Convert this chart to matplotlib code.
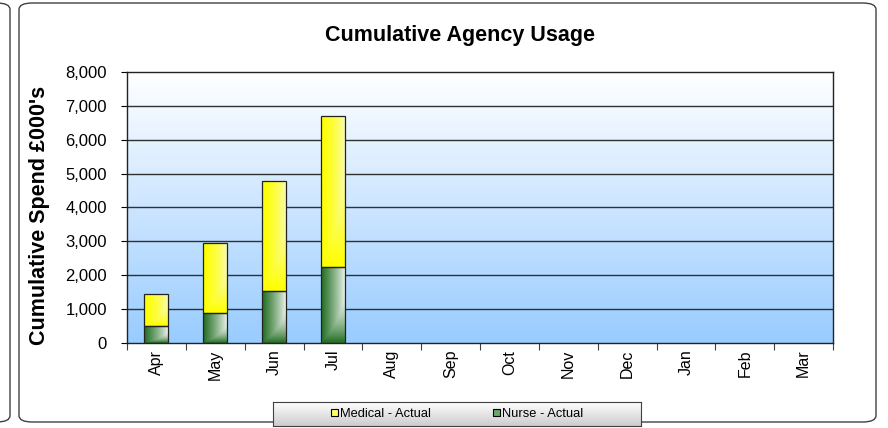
import numpy as np
import matplotlib
matplotlib.use('Agg')
import matplotlib.pyplot as plt
from matplotlib.patches import FancyBboxPatch, Patch
plt.rcParams.update({'font.family': 'Liberation Sans', 'font.size': 12})

# data (cumulative spend, £000's)
months = ['Apr', 'May', 'Jun', 'Jul', 'Aug', 'Sep', 'Oct', 'Nov', 'Dec', 'Jan', 'Feb', 'Mar']
nurse_actual = [500, 880, 1530, 2240]
medical_actual = [940, 2060, 3240, 4470]


"""
Fill a bar with a corner gradient: white at top-right, colour at left and bottom.
"""
def gradient_fill(ax, patch, rgb, gamma):
	x0, y0 = patch.get_x(), patch.get_y()
	w, h = patch.get_width(), patch.get_height()
	xs = np.linspace(0, 1, 40)
	ys = np.linspace(0, 1, 80)
	gx, gy = np.meshgrid(xs, ys)
	# image row 0 is the top, so gy is the distance down from the top
	t = np.maximum(1 - gx, gy ** 3)
	t = np.clip(t * 1.05, 0, 1) ** gamma
	white = np.array([0.97, 0.98, 0.97])
	col = np.array(rgb)
	img = white[None, None, :] * (1 - t[..., None]) + col[None, None, :] * t[..., None]
	im = ax.imshow(img, extent=[x0, x0 + w, y0, y0 + h], origin='upper',
				   aspect='auto', zorder=3, interpolation='bilinear')
	im.set_clip_path(patch)


fig = plt.figure(figsize=(8.88, 4.28), dpi=100)
W, H = 888, 428

# rounded chart frames (behind the axes)
frame = FancyBboxPatch((19 / W, 6 / H), 857 / W, 419 / H, boxstyle='round,pad=0,rounding_size=0.015',
					   transform=fig.transFigure, facecolor='white', edgecolor='#404040', lw=1.0, zorder=-5)
fig.patches.append(frame)
left_frame = FancyBboxPatch((-100 / W, 6 / H), 110 / W, 419 / H, boxstyle='round,pad=0,rounding_size=0.015',
							transform=fig.transFigure, facecolor='white', edgecolor='#404040', lw=1.0, zorder=-5)
fig.patches.append(left_frame)

ax = fig.add_axes([127 / W, (H - 342.7) / H, (833 - 127) / W, (342.7 - 72) / H])
x = np.arange(len(months))
n = len(nurse_actual)

# background gradient
bg = np.linspace(0, 1, 256)[:, None]
top = np.array([1.0, 1.0, 1.0])
bottom = np.array([153, 204, 255]) / 255
bg_img = top[None, None, :] * (1 - bg[..., None]) + bottom[None, None, :] * bg[..., None]
ax.imshow(bg_img, extent=[-0.5, 11.5, 0, 8000], aspect='auto', zorder=0, origin='upper')

for yv in range(1000, 8000, 1000):
	ax.axhline(yv, color='#303030', lw=1.0, zorder=1)

nurse_bars = ax.bar(x[:n], nurse_actual, width=0.41, color='none', edgecolor='#222222', lw=0.9, zorder=4)
med_bars = ax.bar(x[:n], medical_actual, width=0.41, bottom=nurse_actual, color='none',
				  edgecolor='#222222', lw=0.9, zorder=4)
for p in nurse_bars:
	gradient_fill(ax, p, (0.16, 0.45, 0.16), 0.85)
for p in med_bars:
	gradient_fill(ax, p, (1.0, 1.0, 0.0), 0.45)

ax.set_xlim(-0.5, 11.5)
ax.set_ylim(0, 8000)
ax.set_yticks(range(0, 8001, 1000))
ax.set_yticklabels(['{:,}'.format(v) for v in range(0, 8001, 1000)])
ax.set_xticks(np.arange(13) - 0.5)
ax.set_xticklabels([''] * 13)
ax.set_xticks(x, months, minor=True, rotation=90, fontsize=11.5)
ax.tick_params(axis='x', which='major', length=5, color='#404040', direction='out')
ax.tick_params(axis='x', which='minor', length=0, pad=5)
ax.tick_params(axis='y', length=4.5, pad=10, direction='out')
for s in ax.spines.values():
	s.set_color('#222222')
	s.set_linewidth(1.0)
	s.set_zorder(5)

fig.text(460 / W, 1 - 35 / H, 'Cumulative Agency Usage', ha='center', va='center',
		 fontsize=15.5, fontweight='bold')
fig.text(40 / W, 1 - 215 / H, "Cumulative Spend £000's", ha='center', va='center',
		 rotation=90, fontsize=15.5, fontweight='bold')

# legend box with gray gradient
lax = fig.add_axes([273 / W, 2 / H, (641 - 273) / W, 24 / H])
lg = np.linspace(0, 1, 64)[:, None]
lg_img = np.ones((64, 1, 3)) * (1 - 0.2 * lg[..., None])
lax.imshow(lg_img, extent=[0, 1, 0, 1], aspect='auto', origin='upper')
lax.set_xlim(0, 1)
lax.set_ylim(0, 1)
lax.set_xticks([])
lax.set_yticks([])
for s in lax.spines.values():
	s.set_color('#404040')
handles = [Patch(facecolor='#FFFF66', edgecolor='black', lw=0.8, label='Medical - Actual'),
		   Patch(facecolor='#66AA66', edgecolor='black', lw=0.8, label='Nurse - Actual')]
lax.legend(handles=handles, loc='center', ncol=2, frameon=False, fontsize=9.3,
		   handlelength=0.55, handleheight=0.55, handletextpad=0.15, columnspacing=4.8,
		   borderpad=0, borderaxespad=0)

fig.savefig('out.png', dpi=100)
